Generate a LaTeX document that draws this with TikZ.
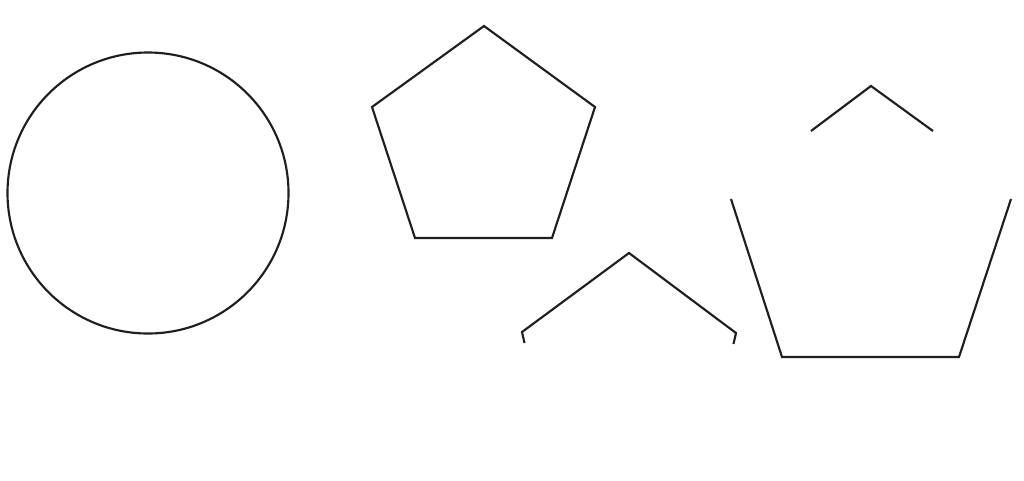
\documentclass[tikz,border=0pt]{standalone}
\begin{document}
\begin{tikzpicture}[x=0.75pt,y=-0.75pt,
  shape line/.style={draw=black!88,line width=1.6pt,line join=miter}]
\useasboundingbox[fill=white] (0,0) rectangle (1024,480);
% circle
\coordinate (c) at (148,193);
\draw[shape line] (c) circle[radius=140.5];
% full pentagon
\coordinate (p1) at (484,26);
\coordinate (p2) at (595,107);
\coordinate (p3) at (552,238);
\coordinate (p4) at (415,238);
\coordinate (p5) at (372,107);
\draw[shape line] (p1) -- (p2) -- (p3) -- (p4) -- (p5) -- cycle;
% partial pentagon top
\coordinate (q1) at (629,253);
\coordinate (q2) at (522,332);
\coordinate (q2b) at (524.5,343);
\coordinate (q3) at (736,333);
\coordinate (q3b) at (733.5,344);
\draw[shape line] (q2b) -- (q2) -- (q1) -- (q3) -- (q3b);
% large pentagon, split
\coordinate (r1) at (871,86);
\coordinate (r1l) at (811,131);
\coordinate (r1r) at (933,131);
\coordinate (r2) at (1011,199);
\coordinate (r3) at (959,357);
\coordinate (r4) at (782,357);
\coordinate (r5) at (731,199);
\draw[shape line] (r1l) -- (r1) -- (r1r);
\draw[shape line] (r2) -- (r3) -- (r4) -- (r5);
\end{tikzpicture}
\end{document}
